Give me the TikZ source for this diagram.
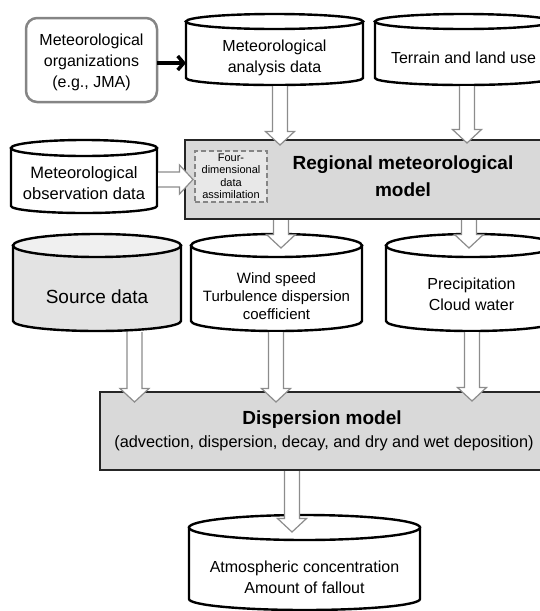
\documentclass[tikz,border=0pt]{standalone}
\usepackage{fontspec}
\setmainfont{Liberation Sans}
\usetikzlibrary{calc,arrows.meta}
\tikzset{
  frame/.style={inner sep=0pt, outer sep=0pt, anchor=north west},
  cylline/.style={draw=black, line width=2.4pt},
  hol/.style={draw=black!45, line width=1.2pt, fill=white, line join=miter},
  gbox/.style={frame, draw=black!85, line width=2.5pt, fill=black!15},
  orgbox/.style={frame, draw=black!48, line width=2.5pt, rounded corners=11pt, fill=white},
  dbox/.style={frame, draw=black!48, line width=2pt, dash pattern=on 5pt off 3pt, fill=black!9},
  txt/.style={inner sep=0pt, align=center, font=\fontsize{16}{21}\selectfont},
  whitefill/.style={fill=white},
  srcbody/.style={fill=black!11},
  srctop/.style={fill=black!6},
}
% cylinder drawn on the extent of a named frame node
\newcommand\cylof[5]{%
  \filldraw[cylline, #4] let \p1=(#1.north west), \p2=(#1.south east), \n1={(\x2-\x1)/2} in
    (\x1,\y1-#2) -- (\x1,\y2+#3) arc[start angle=180, end angle=360, x radius=\n1, y radius=#3]
    -- (\x2,\y1-#2) -- cycle;
  \filldraw[cylline, #5] let \p1=(#1.north west), \p2=(#1.south east), \n1={(\x2-\x1)/2} in
    (\x1+\n1,\y1-#2) ellipse [x radius=\n1, y radius=#2];
}
% hollow block arrows
\newcommand\downarr[2]{%
  \filldraw[hol] let \p1=(#1), \p2=(#2) in
    (\x1-7.5pt,\y1) -- (\x1-7.5pt,\y2+13.5pt) -- (\x1-14.5pt,\y2+13.5pt) -- (\x1,\y2)
    -- (\x1+14.5pt,\y2+13.5pt) -- (\x1+7.5pt,\y2+13.5pt) -- (\x1+7.5pt,\y1);
}
\newcommand\rightarr[2]{%
  \filldraw[hol] let \p1=(#1), \p2=(#2) in
    (\x1,\y1+7.5pt) -- (\x2-13.5pt,\y1+7.5pt) -- (\x2-13.5pt,\y1+14.5pt) -- (\x2,\y1)
    -- (\x2-13.5pt,\y1-14.5pt) -- (\x2-13.5pt,\y1-7.5pt) -- (\x1,\y1-7.5pt);
}
\begin{document}
\begin{tikzpicture}[x=1pt,y=1pt]
\useasboundingbox (0,0) rectangle (540,-611);
\clip (0,0) rectangle (540,-611);

% frames
\node[frame, minimum width=131pt, minimum height=84pt] (org) at (26,-18) {};
\node[frame, minimum width=177pt, minimum height=71pt] (an) at (186,-14) {};
\node[frame, minimum width=177pt, minimum height=71pt] (ter) at (375,-14) {};
\node[frame, minimum width=146pt, minimum height=73pt] (obs) at (11,-140) {};
\node[gbox, minimum width=360pt, minimum height=79pt] (reg) at (185,-140) {};
\node[dbox, minimum width=72pt, minimum height=51pt] (fdda) at (195,-151) {};
\node[frame, minimum width=168pt, minimum height=97pt] (src) at (13,-234) {};
\node[frame, minimum width=171pt, minimum height=97pt] (wind) at (191,-234) {};
\node[frame, minimum width=171pt, minimum height=97pt] (prec) at (386,-234) {};
\node[gbox, minimum width=445pt, minimum height=78pt] (disp) at (100,-392) {};
\node[frame, minimum width=231pt, minimum height=95pt] (out) at (189,-515) {};

% organizations box
\node[orgbox, minimum width=131pt, minimum height=84pt] at (org.north west) {};

% cylinders
\cylof{an}{7.5pt}{7pt}{whitefill}{whitefill}
\cylof{ter}{7.5pt}{7pt}{whitefill}{whitefill}
\cylof{obs}{8pt}{7pt}{whitefill}{whitefill}
\cylof{src}{11.5pt}{10pt}{srcbody}{srctop}
\cylof{wind}{11.5pt}{10pt}{whitefill}{whitefill}
\cylof{prec}{11.5pt}{10pt}{whitefill}{whitefill}
\cylof{out}{12.5pt}{11pt}{whitefill}{whitefill}

% texts
\node[txt] (orgt) at (91.5,-62) {Meteorological\\organizations\\(e.g., JMA)};
\node[txt] (ant) at (274.5,-58) {Meteorological\\analysis data};
\node[txt] (tert) at (463.5,-58) {Terrain and land use};
\node[txt, font=\fontsize{16.5}{21}\selectfont] (obst) at (84,-183.5) {Meteorological\\observation data};
\node[txt, font=\fontsize{19}{27}\selectfont\bfseries] (regt) at (403,-176.5) {Regional meteorological\\model};
\node[txt, font=\fontsize{11}{12.5}\selectfont] (fddat) at (fdda.center) {Four-\\dimensional\\data\\assimilation};
\node[txt, font=\fontsize{19}{23}\selectfont] (srct) at (97,-297) {Source data};
\node[txt, font=\fontsize{15}{18}\selectfont] (windt) at (276.5,-296) {Wind speed\\Turbulence dispersion\\coefficient};
\node[txt] (prect) at (471.5,-294.5) {Precipitation\\Cloud water};
\node[txt, font=\fontsize{19}{23}\selectfont\bfseries] (dispt) at (322,-420) {Dispersion model};
\node[txt, font=\fontsize{16.3}{19}\selectfont] (dispt2) at (324,-443) {(advection, dispersion, decay, and dry and wet deposition)};
\node[txt] (outt) at (304.5,-577.5) {Atmospheric concentration\\Amount of fallout};

% black arrow
\coordinate (ba) at ($(org.east)+(0,-3)$);
\draw[line width=3.5pt, -{Straight Barb[length=6pt,width=14pt,line width=3.5pt]}] (ba) -- (ba -| an.west);

% hollow arrows
\downarr{$(an.south)+(5.5,-1.2)$}{$(reg.north)+(5.5,-5)$}
\downarr{$(ter.south)+(3.5,-1.2)$}{$(reg.north)+(5.5,-3)$}
\rightarr{$(obs.east)+(1.2,0)+(0,-3)$}{$(fdda.west)+(-2,0)$}
\downarr{$(reg.south)+(-84,-1.2)$}{$(wind.north)+(0,-14)$}
\downarr{$(reg.south)+(104,-1.2)$}{$(prec.north)+(0,-14)$}
\downarr{$(src.south)+(37.5,-1.2)$}{$(disp.north)+(0,-10)$}
\downarr{$(wind.south)+(-0.5,-1.2)$}{$(disp.north)+(0,-10)$}
\downarr{$(prec.south)+(0.5,-1.2)$}{$(disp.north)+(0,-9)$}
\downarr{$(disp.south)+(-30.5,-1.2)$}{$(out.north)+(0,-17)$}
\end{tikzpicture}
\end{document}
